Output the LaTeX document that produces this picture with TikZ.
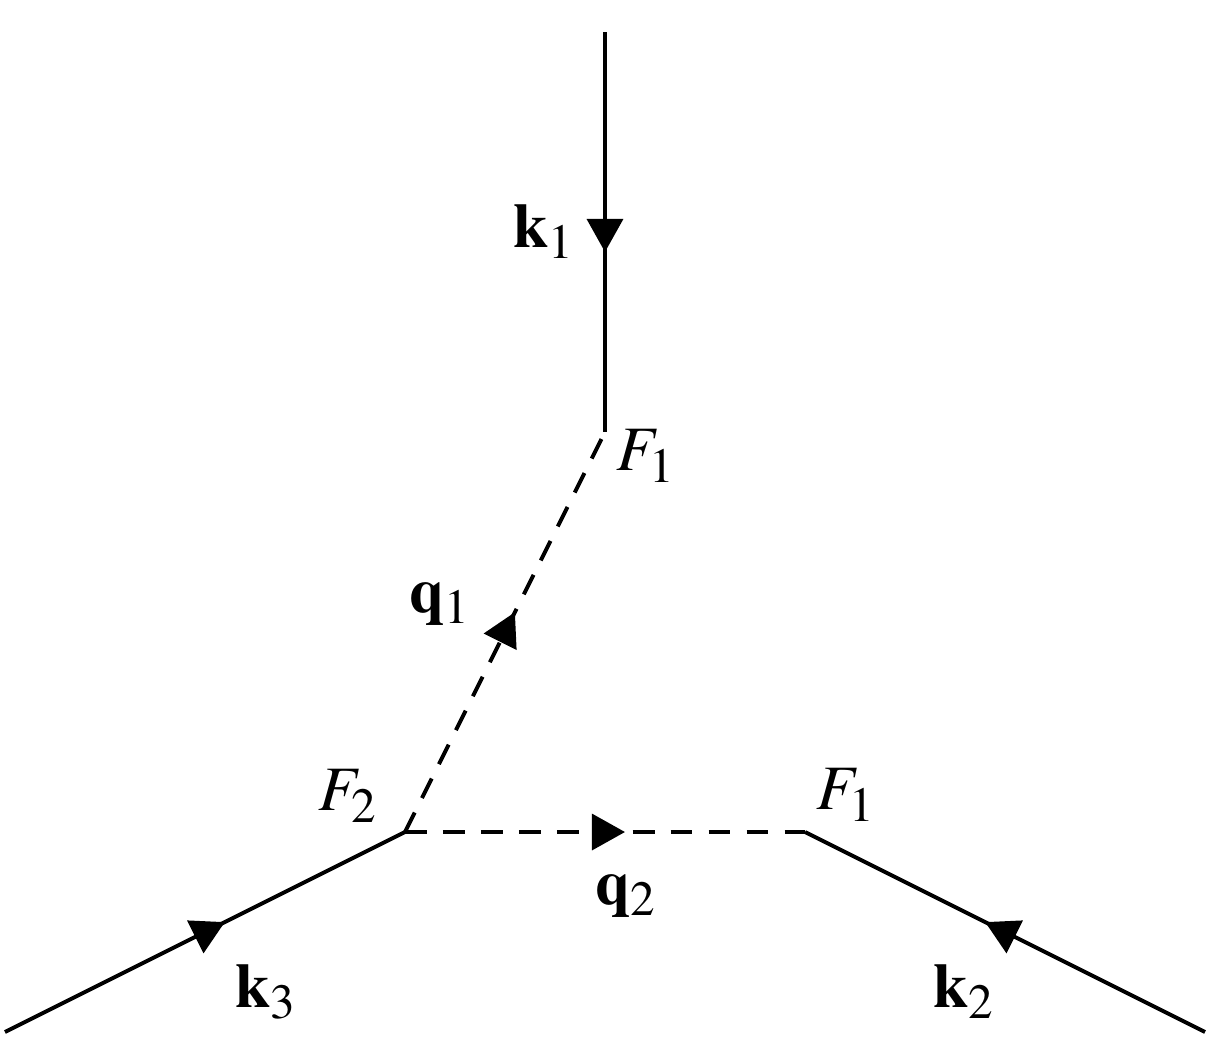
\documentclass[tikz,border=0pt]{standalone}
\usepackage{mathptmx}
\usepackage{tikz}
\usetikzlibrary{arrows.meta,decorations.markings}

\begin{document}
\begin{tikzpicture}[font=\fontsize{9}{11}\selectfont,
	line/.style={line width=0.55pt,postaction={decorate},
		decoration={markings,mark=at position 0.55 with {\arrow{Triangle[length=4.7pt,width=5.1pt]}}}},
	dashline/.style={line,dash pattern=on 3.1pt off 2.3pt}]
\useasboundingbox (-2.025,-1.11) rectangle (4.005,4.16);
% vertices and open ends
\coordinate (in1) at (1,4);
\coordinate (v1) at (1,2);
\coordinate (v2) at (0,0);
\coordinate (v3) at (2,0);
\coordinate (in3) at (-2,-1);
\coordinate (in2) at (4,-1);
% lines
\draw[line] (in1) -- (v1);
\draw[line] (in3) -- (v2);
\draw[line] (in2) -- (v3);
\draw[dashline] (v2) -- (v1);
\draw[dashline] (v2) -- (v3);
% labels
\node (lk1) at (0.70,3.00) {$\mathbf{k}_1$};
\node (lF1) at (1.21,1.88) {$F_1$};
\node (lq1) at (0.18,1.14) {$\mathbf{q}_1$};
\node (lF2) at (-0.28,0.18) {$F_2$};
\node (lF3) at (2.21,0.185) {$F_1$};
\node (lq2) at (1.11,-0.32) {$\mathbf{q}_2$};
\node (lk3) at (-0.69,-0.80) {$\mathbf{k}_3$};
\node (lk2) at (2.80,-0.80) {$\mathbf{k}_2$};
\end{tikzpicture}
\end{document}
